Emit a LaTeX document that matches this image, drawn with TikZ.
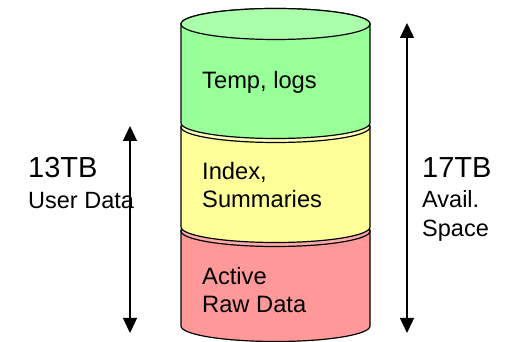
\documentclass[tikz,border=0pt]{standalone}
\usepackage{fontspec}
\setmainfont{Liberation Sans}
\usetikzlibrary{arrows.meta,positioning}

\definecolor{tempbody}{HTML}{99FF99}
\definecolor{temptop}{HTML}{AAFFAA}
\definecolor{indexbody}{HTML}{FFFF99}
\definecolor{indextop}{HTML}{FFFFBB}
\definecolor{rawbody}{HTML}{FF9999}
\definecolor{rawtop}{HTML}{FFAAAA}

\begin{document}
\begin{tikzpicture}[x=1pt, y=1pt,
    layer/.style={draw=black, line width=1.2pt, line join=round},
    span/.style={{Triangle[length=15pt,width=14pt]}-{Triangle[length=15pt,width=14pt]}, line width=1.4pt},
    tag/.style={font=\fontsize{23.7}{28.5}\selectfont, align=left, inner sep=0pt},
    sizelbl/.style={font=\fontsize{29}{34}\selectfont, inner sep=0pt},
    desc/.style={font=\fontsize{23.5}{29.5}\selectfont, align=left, inner sep=0pt}
]
\useasboundingbox (0,0) rectangle (505,342);

% Bottom layer: active raw data
\filldraw[layer, fill=rawbody] (181,111) -- (181,16) arc[start angle=180, end angle=360, x radius=94.5, y radius=15.5]
    -- (370,111) arc[start angle=0, end angle=180, x radius=94.5, y radius=15.5] -- cycle;
\filldraw[layer, fill=rawtop] (275.5,111) ellipse[x radius=94.5, y radius=15.5];

% Middle layer: index and summaries
\filldraw[layer, fill=indexbody] (181,215) -- (181,115) arc[start angle=180, end angle=360, x radius=94.5, y radius=15.5]
    -- (370,215) arc[start angle=0, end angle=180, x radius=94.5, y radius=15.5] -- cycle;
\filldraw[layer, fill=indextop] (275.5,215) ellipse[x radius=94.5, y radius=15.5];

% Top layer: temp and logs
\filldraw[layer, fill=tempbody] (181,318) -- (181,219) arc[start angle=180, end angle=360, x radius=94.5, y radius=15.5]
    -- (370,318) arc[start angle=0, end angle=180, x radius=94.5, y radius=15.5] -- cycle;
\filldraw[layer, fill=temptop] (275.5,318) ellipse[x radius=94.5, y radius=15.5];

% Layer texts
\node[tag, anchor=north west] (temp) at (202,271) {Temp, logs};
\node[tag, anchor=north west] (index) at (202,180) {Index,\\Summaries};
\node[tag, anchor=north west] (raw) at (202,75) {Active\\Raw Data};

% Size labels
\node[sizelbl, anchor=base west] (usersize) at (28,164) {13TB};
\node[desc, anchor=base west] (userdesc) at ([yshift=-31pt]usersize.base west) {User Data};
\node[sizelbl, anchor=base west] (availsize) at (422,164) {17TB};
\node[desc, anchor=base west] (availdesc) at ([yshift=-59pt]availsize.base west) {Avail.\\Space};

% Extent arrows
\coordinate (usertop) at (130,216);
\coordinate (userbot) at (130,9);
\coordinate (availtop) at (407,319);
\coordinate (availbot) at (407,9);
\draw[span] (usertop) -- (userbot);
\draw[span] (availtop) -- (availbot);

\end{tikzpicture}
\end{document}
